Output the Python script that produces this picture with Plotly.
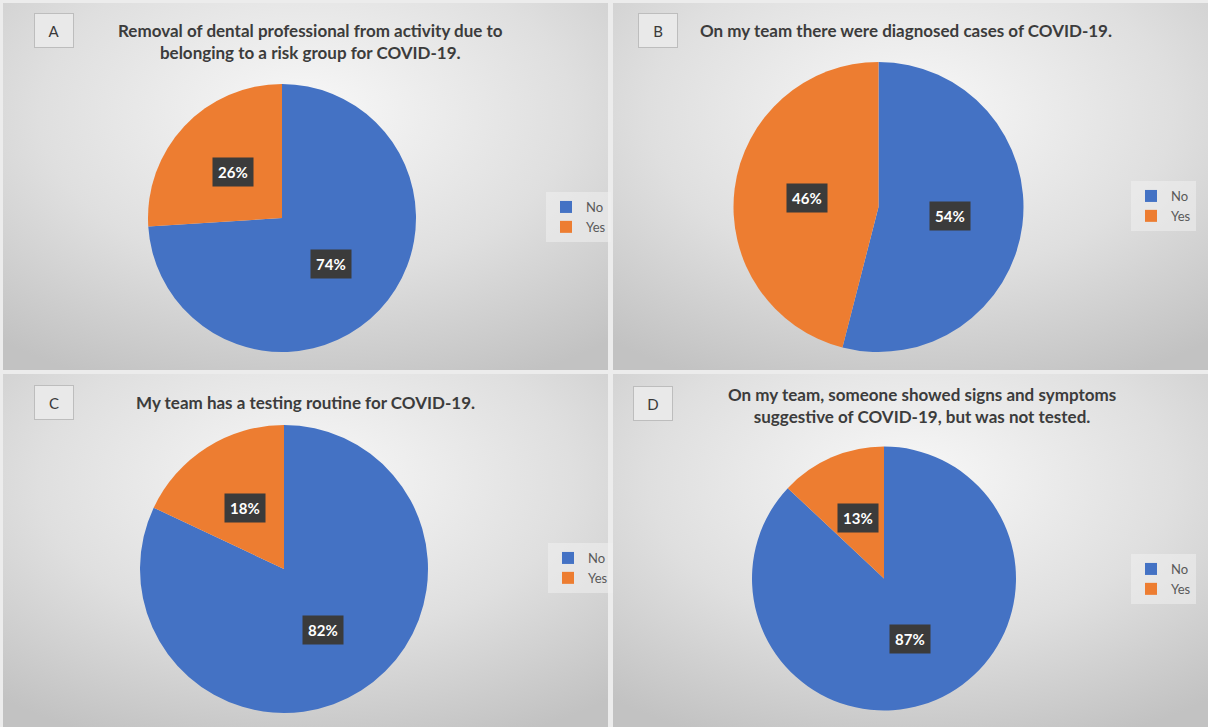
import base64
import math
import plotly.graph_objects as go

W, H = 1208, 727

# ---------------- data ----------------
categories = ["No", "Yes"]
values_a = [74, 26]
values_b = [54, 46]
values_c = [82, 18]
values_d = [87, 13]
letters = ["A", "B", "C", "D"]
titles = [
    "Removal of dental professional from activity due to<br>belonging to a risk group for COVID-19.",
    "On my team there were diagnosed cases of COVID-19.",
    "My team has a testing routine for COVID-19.",
    "On my team, someone showed signs and symptoms<br>suggestive of COVID-19, but was not tested.",
]
series = [values_a, values_b, values_c, values_d]

# ---------------- layout (pixels) ----------------
colors = ["#4472C4", "#ED7D31"]
FONT = "Lato"
panels = [(3, 3, 608, 370), (613, 3, 1208, 370), (3, 374, 608, 727), (613, 374, 1208, 727)]
pie_geo = [(282, 218, 134), (878.5, 207, 145), (284, 569, 144), (884, 578.5, 132)]
letter_box = [(54, 31), (658, 31), (54, 402), (653, 403)]
title_pos = [(310, 42), (906, 31), (305, 402), (922, 405)]
legend_pos = [(546, 217), (1131, 206), (548, 568), (1131, 579)]


def px(x, y):
    return x / W, 1 - y / H


svg = (
    "<svg xmlns='http://www.w3.org/2000/svg' width='600' height='360' preserveAspectRatio='none'>"
    "<defs><radialGradient id='g' cx='50%' cy='30%' r='80%'>"
    "<stop offset='0%' stop-color='#f8f8f8'/><stop offset='55%' stop-color='#dfdfdf'/>"
    "<stop offset='100%' stop-color='#c2c2c2'/></radialGradient></defs>"
    "<rect width='600' height='360' fill='url(#g)'/></svg>"
)
svg_uri = "data:image/svg+xml;base64," + base64.b64encode(svg.encode()).decode()

fig = go.Figure()
images = []
annotations = []
legends = {}

for i, vals in enumerate(series):
    cx, cy, r = pie_geo[i]
    x0, y1 = px(cx - r, cy - r)
    x1, y0 = px(cx + r, cy + r)
    lname = "legend" if i == 0 else f"legend{i + 1}"
    # zero-width suffix keeps each panel's legend entries separate
    labels = [c + "\u200b" * i for c in categories]
    fig.add_trace(go.Pie(
        labels=labels, values=vals, sort=False, direction="clockwise", rotation=0,
        marker=dict(colors=colors, line=dict(width=0)),
        textinfo="none", hoverinfo="label+percent",
        domain=dict(x=[x0, x1], y=[y0, y1]),
        legend=lname, showlegend=True,
    ))
    # data labels
    total = sum(vals)
    cum = 0
    for v in vals:
        mid = (cum + v / 2) / total * 2 * math.pi
        cum += v
        lx = cx + 0.5 * r * math.sin(mid)
        ly = cy - 0.5 * r * math.cos(mid)
        ax, ay = px(lx, ly)
        annotations.append(dict(
            x=ax, y=ay, xref="paper", yref="paper", showarrow=False,
            xanchor="center", yanchor="middle",
            text=f"<b>{round(v / total * 100)}%</b>",
            font=dict(family=FONT, size=15, color="white"),
            bgcolor="#3b3b3b", borderpad=5,
        ))
    # panel background
    pl, pt, pr, pb = panels[i]
    ix, iy = px(pl, pt)
    images.append(dict(
        source=svg_uri, xref="paper", yref="paper", x=ix, y=iy,
        sizex=(pr - pl) / W, sizey=(pb - pt) / H, sizing="stretch",
        xanchor="left", yanchor="top", layer="below",
    ))
    # letter box
    bx, by = px(*letter_box[i])
    annotations.append(dict(
        x=bx, y=by, xref="paper", yref="paper", showarrow=False,
        xanchor="center", yanchor="middle",
        text=letters[i], font=dict(family=FONT, size=15, color="#3a3a3a"),
        bgcolor="#e9e9e9", bordercolor="#bdbdbd", borderwidth=1,
        width=36, height=31,
    ))
    # title
    tx, ty = px(*title_pos[i])
    annotations.append(dict(
        x=tx, y=ty, xref="paper", yref="paper", showarrow=False,
        xanchor="center", yanchor="middle",
        text=f"<b>{titles[i]}</b>", font=dict(family=FONT, size=17, color="#3c3c3c"),
        align="center",
    ))
    # legend
    gx, gy = px(*legend_pos[i])
    legends[lname] = dict(
        x=gx, y=gy, xanchor="left", yanchor="middle",
        bgcolor="rgba(240,240,240,0.55)", borderwidth=0,
        font=dict(family=FONT, size=13, color="#595959"),
        traceorder="normal", itemwidth=30,
    )

fig.update_layout(
    width=W, height=H,
    margin=dict(l=0, r=0, t=0, b=0),
    paper_bgcolor="#ececec", plot_bgcolor="#ececec",
    images=images, annotations=annotations,
    font=dict(family=FONT),
    **legends,
)

fig.write_html("out.html")
